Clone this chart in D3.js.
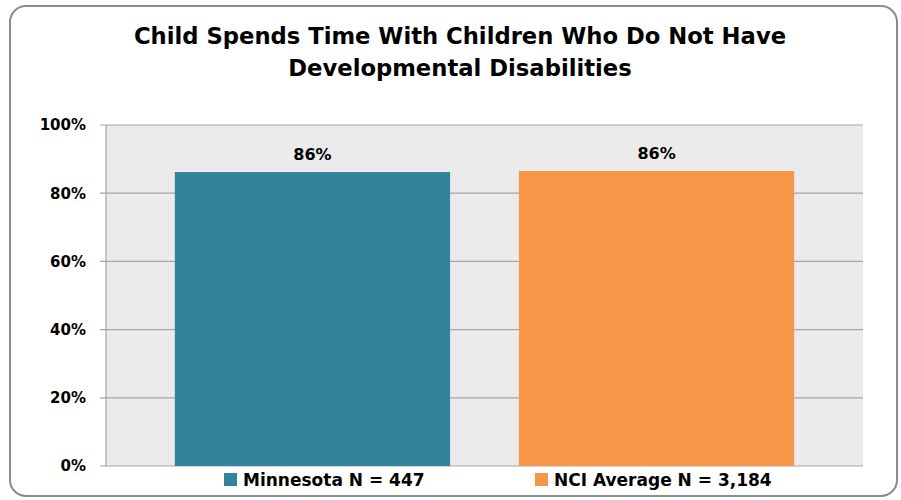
<!DOCTYPE html>
<html>
<head>
<meta charset="utf-8">
<script src="https://cdn.jsdelivr.net/npm/d3@7"></script>
<style>
  body { margin: 0; background: #fff; }
  svg text { font-family: "DejaVu Sans", Verdana, sans-serif; font-weight: bold; fill: #000; }
</style>
</head>
<body>
<svg id="chart" width="901" height="500"></svg>
<script>
const titleLines = ["Child Spends Time With Children Who Do Not Have", "Developmental Disabilities"];
const series = ["Minnesota N = 447", "NCI Average N = 3,184"];
const values = [0.862, 0.865];
const labels = ["86%", "86%"];
const colors = ["#31849B", "#F79646"];
const yTicks = [0, 0.2, 0.4, 0.6, 0.8, 1.0];

const svg = d3.select("#chart");
const margin = { top: 125, right: 38, bottom: 34, left: 106 };
const W = 901, H = 500;
const innerW = W - margin.left - margin.right;
const innerH = H - margin.top - margin.bottom;

// frame
svg.append("rect")
	.attr("x", 10).attr("y", 6)
	.attr("width", 887).attr("height", 490)
	.attr("rx", 16).attr("ry", 16)
	.attr("fill", "#fff")
	.attr("stroke", "#8c8c8c")
	.attr("stroke-width", 2);

// title
svg.append("g").selectAll("text")
	.data(titleLines)
	.enter().append("text")
	.attr("x", 460)
	.attr("y", (d, i) => 44 + i * 32)
	.attr("text-anchor", "middle")
	.style("font-size", "22.7px")
	.text(d => d);

const g = svg.append("g").attr("transform", `translate(${margin.left},${margin.top})`);

const x = d3.scaleBand()
	.domain(series)
	.range([0, innerW])
	.paddingInner(0.2)
	.paddingOuter(0.2);

const y = d3.scaleLinear().domain([0, 1]).range([innerH, 0]);

g.append("rect")
	.attr("width", innerW).attr("height", innerH)
	.attr("fill", "#EBEBEB");

// gridlines
g.selectAll("line.grid")
	.data(yTicks)
	.enter().append("line")
	.attr("class", "grid")
	.attr("x1", -6).attr("x2", innerW)
	.attr("y1", d => y(d)).attr("y2", d => y(d))
	.attr("stroke", "#a6a6a6")
	.attr("stroke-width", 1.2);

g.append("line")
	.attr("x1", 0).attr("x2", 0)
	.attr("y1", 0).attr("y2", innerH)
	.attr("stroke", "#a6a6a6")
	.attr("stroke-width", 1.2);

// y labels
const yAxis = d3.axisLeft(y).tickValues(yTicks).tickFormat(d3.format(".0%")).tickSize(0).tickPadding(20);
g.append("g").call(yAxis)
	.call(a => a.select(".domain").remove())
	.selectAll("text")
	.style("font-size", "15px");

// bars
g.selectAll("rect.bar")
	.data(series)
	.enter().append("rect")
	.attr("class", "bar")
	.attr("x", d => x(d))
	.attr("width", x.bandwidth())
	.attr("y", (d, i) => y(values[i]))
	.attr("height", (d, i) => innerH - y(values[i]))
	.attr("fill", (d, i) => colors[i]);

g.selectAll("text.val")
	.data(series)
	.enter().append("text")
	.attr("class", "val")
	.attr("x", d => x(d) + x.bandwidth() / 2)
	.attr("y", (d, i) => y(values[i]) - 12)
	.attr("text-anchor", "middle")
	.style("font-size", "16px")
	.text((d, i) => labels[i]);

// legend
const legend = svg.append("g").attr("transform", "translate(0,485)");
const legX = [224, 535];
series.forEach((s, i) => {
	legend.append("rect")
		.attr("x", legX[i]).attr("y", -12)
		.attr("width", 13).attr("height", 13)
		.attr("fill", colors[i]);
	legend.append("text")
		.attr("x", legX[i] + 19).attr("y", 1)
		.style("font-size", "17px")
		.text(s);
});
</script>
</body>
</html>
